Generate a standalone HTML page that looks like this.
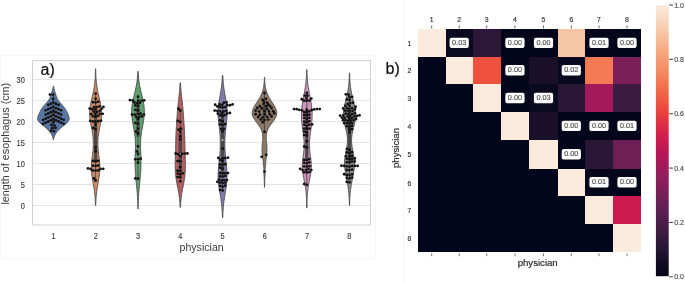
<!DOCTYPE html>
<html><head><meta charset="utf-8"><style>
html,body{margin:0;padding:0;background:#fff;width:685px;height:282px;overflow:hidden}
svg text{font-family:"Liberation Sans", sans-serif}
</style></head><body>
<svg width="685" height="282" viewBox="0 0 685 282" style="position:absolute;left:0;top:0;will-change:transform"><rect x="0.5" y="55.5" width="375" height="203.5" fill="none" stroke="#f7f7f7" stroke-width="1"/><line x1="403.5" y1="0" x2="403.5" y2="282" stroke="#f6f6f6" stroke-width="1"/><line x1="32.5" y1="205.50" x2="370.5" y2="205.50" stroke="#e3e3e3" stroke-width="1"/><text transform="translate(24.9,208.70) scale(0.84,1)" font-size="8.9" text-anchor="end" fill="#3c3c3c" stroke="#3c3c3c" stroke-width="0.15">0</text><line x1="32.5" y1="184.51" x2="370.5" y2="184.51" stroke="#e3e3e3" stroke-width="1"/><text transform="translate(24.9,187.71) scale(0.84,1)" font-size="8.9" text-anchor="end" fill="#3c3c3c" stroke="#3c3c3c" stroke-width="0.15">5</text><line x1="32.5" y1="163.53" x2="370.5" y2="163.53" stroke="#e3e3e3" stroke-width="1"/><text transform="translate(24.9,166.73) scale(0.84,1)" font-size="8.9" text-anchor="end" fill="#3c3c3c" stroke="#3c3c3c" stroke-width="0.15">10</text><line x1="32.5" y1="142.55" x2="370.5" y2="142.55" stroke="#e3e3e3" stroke-width="1"/><text transform="translate(24.9,145.75) scale(0.84,1)" font-size="8.9" text-anchor="end" fill="#3c3c3c" stroke="#3c3c3c" stroke-width="0.15">15</text><line x1="32.5" y1="121.56" x2="370.5" y2="121.56" stroke="#e3e3e3" stroke-width="1"/><text transform="translate(24.9,124.76) scale(0.84,1)" font-size="8.9" text-anchor="end" fill="#3c3c3c" stroke="#3c3c3c" stroke-width="0.15">20</text><line x1="32.5" y1="100.58" x2="370.5" y2="100.58" stroke="#e3e3e3" stroke-width="1"/><text transform="translate(24.9,103.78) scale(0.84,1)" font-size="8.9" text-anchor="end" fill="#3c3c3c" stroke="#3c3c3c" stroke-width="0.15">25</text><line x1="32.5" y1="79.59" x2="370.5" y2="79.59" stroke="#e3e3e3" stroke-width="1"/><text transform="translate(24.9,82.79) scale(0.84,1)" font-size="8.9" text-anchor="end" fill="#3c3c3c" stroke="#3c3c3c" stroke-width="0.15">30</text><path d="M53.17,86.35 L53.11,86.89 L53.03,87.43 L52.93,87.97 L52.82,88.50 L52.70,89.04 L52.56,89.58 L52.41,90.11 L52.25,90.65 L52.08,91.19 L51.91,91.73 L51.73,92.26 L51.55,92.80 L51.38,93.34 L51.21,93.88 L51.04,94.41 L50.87,94.95 L50.71,95.49 L50.54,96.02 L50.36,96.56 L50.17,97.10 L49.96,97.64 L49.72,98.17 L49.47,98.71 L49.18,99.25 L48.86,99.79 L48.50,100.32 L48.12,100.86 L47.71,101.40 L47.28,101.94 L46.82,102.47 L46.36,103.01 L45.88,103.55 L45.40,104.08 L44.93,104.62 L44.46,105.16 L44.00,105.70 L43.55,106.23 L43.12,106.77 L42.70,107.31 L42.30,107.85 L41.92,108.38 L41.57,108.92 L41.23,109.46 L40.90,109.99 L40.60,110.53 L40.31,111.07 L40.03,111.61 L39.77,112.14 L39.52,112.68 L39.27,113.22 L39.03,113.76 L38.80,114.29 L38.57,114.83 L38.36,115.37 L38.16,115.91 L37.98,116.44 L37.82,116.98 L37.70,117.52 L37.63,118.05 L37.60,118.59 L37.63,119.13 L37.73,119.67 L37.90,120.20 L38.15,120.74 L38.47,121.28 L38.86,121.82 L39.32,122.35 L39.85,122.89 L40.42,123.43 L41.04,123.96 L41.70,124.50 L42.37,125.04 L43.05,125.58 L43.74,126.11 L44.41,126.65 L45.07,127.19 L45.71,127.73 L46.32,128.26 L46.91,128.80 L47.47,129.34 L48.00,129.88 L48.51,130.41 L48.99,130.95 L49.45,131.49 L49.88,132.02 L50.29,132.56 L50.67,133.10 L51.03,133.64 L51.36,134.17 L51.66,134.71 L51.94,135.25 L52.18,135.79 L52.40,136.32 L52.59,136.86 L52.75,137.40 L52.89,137.93 L53.00,138.47 L53.09,139.01 L53.17,139.55 L53.63,139.55 L53.71,139.01 L53.80,138.47 L53.91,137.93 L54.05,137.40 L54.21,136.86 L54.40,136.32 L54.62,135.79 L54.86,135.25 L55.14,134.71 L55.44,134.17 L55.77,133.64 L56.13,133.10 L56.51,132.56 L56.92,132.02 L57.35,131.49 L57.81,130.95 L58.29,130.41 L58.80,129.88 L59.33,129.34 L59.89,128.80 L60.48,128.26 L61.09,127.73 L61.73,127.19 L62.39,126.65 L63.06,126.11 L63.75,125.58 L64.43,125.04 L65.10,124.50 L65.76,123.96 L66.38,123.43 L66.95,122.89 L67.48,122.35 L67.94,121.82 L68.33,121.28 L68.65,120.74 L68.90,120.20 L69.07,119.67 L69.17,119.13 L69.20,118.59 L69.17,118.05 L69.10,117.52 L68.98,116.98 L68.82,116.44 L68.64,115.91 L68.44,115.37 L68.23,114.83 L68.00,114.29 L67.77,113.76 L67.53,113.22 L67.28,112.68 L67.03,112.14 L66.77,111.61 L66.49,111.07 L66.20,110.53 L65.90,109.99 L65.57,109.46 L65.23,108.92 L64.88,108.38 L64.50,107.85 L64.10,107.31 L63.68,106.77 L63.25,106.23 L62.80,105.70 L62.34,105.16 L61.87,104.62 L61.40,104.08 L60.92,103.55 L60.44,103.01 L59.98,102.47 L59.52,101.94 L59.09,101.40 L58.68,100.86 L58.30,100.32 L57.94,99.79 L57.62,99.25 L57.33,98.71 L57.08,98.17 L56.84,97.64 L56.63,97.10 L56.44,96.56 L56.26,96.02 L56.09,95.49 L55.93,94.95 L55.76,94.41 L55.59,93.88 L55.42,93.34 L55.25,92.80 L55.07,92.26 L54.89,91.73 L54.72,91.19 L54.55,90.65 L54.39,90.11 L54.24,89.58 L54.10,89.04 L53.98,88.50 L53.87,87.97 L53.77,87.43 L53.69,86.89 L53.63,86.35Z" fill="#5875a4" stroke="#494949" stroke-width="0.9" stroke-linejoin="round"/><line x1="53.4" y1="94.60" x2="53.4" y2="131.30" stroke="#494949" stroke-width="0.9"/><line x1="53.4" y1="109.20" x2="53.4" y2="121.50" stroke="#494949" stroke-width="3.3"/><circle cx="53.4" cy="116.35" r="1.1" fill="#f4f4f4" stroke="#494949" stroke-width="0.5"/><circle cx="50.00" cy="94.60" r="1.4" fill="#111"/><circle cx="53.10" cy="94.60" r="1.4" fill="#111"/><circle cx="53.20" cy="99.00" r="1.4" fill="#111"/><circle cx="53.40" cy="102.60" r="1.4" fill="#111"/><circle cx="50.85" cy="103.75" r="1.4" fill="#111"/><circle cx="48.30" cy="104.89" r="1.4" fill="#111"/><circle cx="55.95" cy="103.75" r="1.4" fill="#111"/><circle cx="58.50" cy="104.89" r="1.4" fill="#111"/><circle cx="53.40" cy="106.90" r="1.4" fill="#111"/><circle cx="50.85" cy="108.05" r="1.4" fill="#111"/><circle cx="48.30" cy="109.20" r="1.4" fill="#111"/><circle cx="45.75" cy="110.34" r="1.4" fill="#111"/><circle cx="55.95" cy="108.05" r="1.4" fill="#111"/><circle cx="58.50" cy="109.20" r="1.4" fill="#111"/><circle cx="61.05" cy="110.34" r="1.4" fill="#111"/><circle cx="53.40" cy="111.10" r="1.4" fill="#111"/><circle cx="50.85" cy="112.25" r="1.4" fill="#111"/><circle cx="48.30" cy="113.39" r="1.4" fill="#111"/><circle cx="45.75" cy="114.54" r="1.4" fill="#111"/><circle cx="55.95" cy="112.25" r="1.4" fill="#111"/><circle cx="58.50" cy="113.39" r="1.4" fill="#111"/><circle cx="61.05" cy="114.54" r="1.4" fill="#111"/><circle cx="53.40" cy="115.20" r="1.4" fill="#111"/><circle cx="50.85" cy="116.35" r="1.4" fill="#111"/><circle cx="48.30" cy="117.50" r="1.4" fill="#111"/><circle cx="45.75" cy="118.64" r="1.4" fill="#111"/><circle cx="43.20" cy="119.79" r="1.4" fill="#111"/><circle cx="55.95" cy="116.35" r="1.4" fill="#111"/><circle cx="58.50" cy="117.50" r="1.4" fill="#111"/><circle cx="61.05" cy="118.64" r="1.4" fill="#111"/><circle cx="63.60" cy="119.79" r="1.4" fill="#111"/><circle cx="53.40" cy="119.20" r="1.4" fill="#111"/><circle cx="50.85" cy="120.35" r="1.4" fill="#111"/><circle cx="48.30" cy="121.50" r="1.4" fill="#111"/><circle cx="45.75" cy="122.64" r="1.4" fill="#111"/><circle cx="43.20" cy="123.79" r="1.4" fill="#111"/><circle cx="55.95" cy="120.35" r="1.4" fill="#111"/><circle cx="58.50" cy="121.50" r="1.4" fill="#111"/><circle cx="61.05" cy="122.64" r="1.4" fill="#111"/><circle cx="63.60" cy="123.79" r="1.4" fill="#111"/><circle cx="53.40" cy="122.40" r="1.4" fill="#111"/><circle cx="51.40" cy="124.90" r="1.4" fill="#111"/><circle cx="54.40" cy="125.60" r="1.4" fill="#111"/><circle cx="52.20" cy="128.20" r="1.4" fill="#111"/><circle cx="55.60" cy="127.90" r="1.4" fill="#111"/><circle cx="51.00" cy="130.80" r="1.4" fill="#111"/><circle cx="54.00" cy="131.30" r="1.4" fill="#111"/><path d="M95.52,68.74 L95.50,70.12 L95.47,71.50 L95.43,72.88 L95.38,74.26 L95.33,75.64 L95.26,77.02 L95.17,78.40 L95.07,79.78 L94.96,81.16 L94.82,82.54 L94.67,83.92 L94.49,85.30 L94.30,86.68 L94.08,88.06 L93.84,89.44 L93.58,90.82 L93.29,92.20 L93.00,93.58 L92.69,94.96 L92.37,96.34 L92.04,97.72 L91.72,99.10 L91.40,100.48 L91.09,101.86 L90.80,103.24 L90.53,104.62 L90.29,106.00 L90.08,107.38 L89.92,108.76 L89.79,110.14 L89.71,111.52 L89.67,112.90 L89.68,114.28 L89.73,115.66 L89.83,117.04 L89.96,118.42 L90.13,119.80 L90.33,121.18 L90.55,122.56 L90.80,123.94 L91.06,125.32 L91.32,126.70 L91.59,128.08 L91.85,129.46 L92.10,130.84 L92.34,132.22 L92.56,133.60 L92.76,134.98 L92.93,136.36 L93.07,137.74 L93.19,139.12 L93.27,140.50 L93.32,141.88 L93.34,143.26 L93.33,144.64 L93.29,146.02 L93.22,147.40 L93.12,148.78 L93.00,150.16 L92.86,151.54 L92.70,152.92 L92.53,154.30 L92.36,155.68 L92.18,157.06 L92.01,158.44 L91.84,159.82 L91.69,161.20 L91.57,162.58 L91.47,163.96 L91.40,165.34 L91.36,166.72 L91.35,168.10 L91.39,169.48 L91.45,170.86 L91.56,172.24 L91.69,173.62 L91.86,175.00 L92.05,176.38 L92.26,177.76 L92.48,179.14 L92.72,180.52 L92.97,181.90 L93.21,183.28 L93.45,184.66 L93.69,186.04 L93.91,187.42 L94.12,188.80 L94.32,190.18 L94.50,191.56 L94.67,192.94 L94.81,194.32 L94.94,195.70 L95.06,197.08 L95.16,198.46 L95.24,199.84 L95.31,201.22 L95.37,202.60 L95.42,203.98 L95.46,205.36 L95.74,205.36 L95.78,203.98 L95.83,202.60 L95.89,201.22 L95.96,199.84 L96.04,198.46 L96.14,197.08 L96.26,195.70 L96.39,194.32 L96.53,192.94 L96.70,191.56 L96.88,190.18 L97.08,188.80 L97.29,187.42 L97.51,186.04 L97.75,184.66 L97.99,183.28 L98.23,181.90 L98.48,180.52 L98.72,179.14 L98.94,177.76 L99.15,176.38 L99.34,175.00 L99.51,173.62 L99.64,172.24 L99.75,170.86 L99.81,169.48 L99.85,168.10 L99.84,166.72 L99.80,165.34 L99.73,163.96 L99.63,162.58 L99.51,161.20 L99.36,159.82 L99.19,158.44 L99.02,157.06 L98.84,155.68 L98.67,154.30 L98.50,152.92 L98.34,151.54 L98.20,150.16 L98.08,148.78 L97.98,147.40 L97.91,146.02 L97.87,144.64 L97.86,143.26 L97.88,141.88 L97.93,140.50 L98.01,139.12 L98.13,137.74 L98.27,136.36 L98.44,134.98 L98.64,133.60 L98.86,132.22 L99.10,130.84 L99.35,129.46 L99.61,128.08 L99.88,126.70 L100.14,125.32 L100.40,123.94 L100.65,122.56 L100.87,121.18 L101.07,119.80 L101.24,118.42 L101.37,117.04 L101.47,115.66 L101.52,114.28 L101.53,112.90 L101.49,111.52 L101.41,110.14 L101.28,108.76 L101.12,107.38 L100.91,106.00 L100.67,104.62 L100.40,103.24 L100.11,101.86 L99.80,100.48 L99.48,99.10 L99.16,97.72 L98.83,96.34 L98.51,94.96 L98.20,93.58 L97.91,92.20 L97.62,90.82 L97.36,89.44 L97.12,88.06 L96.90,86.68 L96.71,85.30 L96.53,83.92 L96.38,82.54 L96.24,81.16 L96.13,79.78 L96.03,78.40 L95.94,77.02 L95.87,75.64 L95.82,74.26 L95.77,72.88 L95.73,71.50 L95.70,70.12 L95.68,68.74Z" fill="#cc8963" stroke="#494949" stroke-width="0.9" stroke-linejoin="round"/><line x1="95.6" y1="93.62" x2="95.6" y2="180.48" stroke="#494949" stroke-width="0.9"/><line x1="95.6" y1="109.38" x2="95.6" y2="162.41" stroke="#494949" stroke-width="3.3"/><circle cx="95.6" cy="120.80" r="1.1" fill="#f4f4f4" stroke="#494949" stroke-width="0.5"/><circle cx="95.60" cy="93.62" r="1.4" fill="#111"/><circle cx="95.60" cy="98.80" r="1.4" fill="#111"/><circle cx="95.60" cy="102.40" r="1.4" fill="#111"/><circle cx="92.91" cy="102.13" r="1.4" fill="#111"/><circle cx="98.21" cy="101.71" r="1.4" fill="#111"/><circle cx="96.95" cy="107.09" r="1.4" fill="#111"/><circle cx="103.40" cy="107.02" r="1.4" fill="#111"/><circle cx="99.54" cy="106.31" r="1.4" fill="#111"/><circle cx="94.13" cy="107.16" r="1.4" fill="#111"/><circle cx="89.71" cy="108.61" r="1.4" fill="#111"/><circle cx="95.60" cy="109.43" r="1.4" fill="#111"/><circle cx="92.33" cy="109.25" r="1.4" fill="#111"/><circle cx="101.53" cy="108.96" r="1.4" fill="#111"/><circle cx="99.59" cy="110.84" r="1.4" fill="#111"/><circle cx="97.18" cy="112.05" r="1.4" fill="#111"/><circle cx="93.66" cy="111.60" r="1.4" fill="#111"/><circle cx="95.16" cy="113.85" r="1.4" fill="#111"/><circle cx="99.95" cy="113.80" r="1.4" fill="#111"/><circle cx="91.22" cy="114.21" r="1.4" fill="#111"/><circle cx="102.65" cy="113.79" r="1.4" fill="#111"/><circle cx="95.60" cy="116.51" r="1.4" fill="#111"/><circle cx="92.91" cy="116.32" r="1.4" fill="#111"/><circle cx="98.22" cy="115.88" r="1.4" fill="#111"/><circle cx="100.93" cy="120.65" r="1.4" fill="#111"/><circle cx="95.60" cy="121.48" r="1.4" fill="#111"/><circle cx="92.90" cy="121.45" r="1.4" fill="#111"/><circle cx="98.29" cy="121.23" r="1.4" fill="#111"/><circle cx="90.24" cy="120.96" r="1.4" fill="#111"/><circle cx="95.60" cy="124.66" r="1.4" fill="#111"/><circle cx="93.17" cy="127.98" r="1.4" fill="#111"/><circle cx="95.60" cy="129.14" r="1.4" fill="#111"/><circle cx="95.60" cy="147.49" r="1.4" fill="#111"/><circle cx="95.60" cy="151.24" r="1.4" fill="#111"/><circle cx="95.60" cy="161.40" r="1.4" fill="#111"/><circle cx="98.24" cy="160.82" r="1.4" fill="#111"/><circle cx="92.94" cy="160.96" r="1.4" fill="#111"/><circle cx="98.25" cy="165.42" r="1.4" fill="#111"/><circle cx="95.60" cy="165.96" r="1.4" fill="#111"/><circle cx="92.91" cy="165.70" r="1.4" fill="#111"/><circle cx="103.25" cy="168.86" r="1.4" fill="#111"/><circle cx="100.55" cy="168.95" r="1.4" fill="#111"/><circle cx="87.98" cy="168.43" r="1.4" fill="#111"/><circle cx="90.62" cy="168.99" r="1.4" fill="#111"/><circle cx="95.60" cy="170.62" r="1.4" fill="#111"/><circle cx="92.91" cy="170.43" r="1.4" fill="#111"/><circle cx="98.29" cy="170.43" r="1.4" fill="#111"/><circle cx="93.87" cy="178.40" r="1.4" fill="#111"/><circle cx="95.60" cy="180.48" r="1.4" fill="#111"/><path d="M137.79,71.43 L137.73,72.82 L137.66,74.21 L137.57,75.60 L137.46,76.99 L137.34,78.37 L137.19,79.76 L137.02,81.15 L136.83,82.54 L136.61,83.93 L136.37,85.32 L136.11,86.71 L135.82,88.09 L135.52,89.48 L135.20,90.87 L134.87,92.26 L134.53,93.65 L134.19,95.04 L133.86,96.42 L133.53,97.81 L133.21,99.20 L132.91,100.59 L132.64,101.98 L132.39,103.37 L132.17,104.76 L131.99,106.14 L131.85,107.53 L131.74,108.92 L131.68,110.31 L131.65,111.70 L131.67,113.09 L131.73,114.47 L131.82,115.86 L131.95,117.25 L132.11,118.64 L132.29,120.03 L132.50,121.42 L132.73,122.81 L132.98,124.19 L133.23,125.58 L133.49,126.97 L133.75,128.36 L134.00,129.75 L134.24,131.14 L134.46,132.53 L134.67,133.91 L134.86,135.30 L135.02,136.69 L135.16,138.08 L135.27,139.47 L135.35,140.86 L135.41,142.24 L135.44,143.63 L135.45,145.02 L135.44,146.41 L135.42,147.80 L135.38,149.19 L135.33,150.58 L135.27,151.96 L135.22,153.35 L135.16,154.74 L135.11,156.13 L135.07,157.52 L135.03,158.91 L135.01,160.30 L135.00,161.68 L135.00,163.07 L135.02,164.46 L135.05,165.85 L135.10,167.24 L135.15,168.63 L135.22,170.01 L135.31,171.40 L135.40,172.79 L135.50,174.18 L135.61,175.57 L135.73,176.96 L135.86,178.35 L135.99,179.73 L136.12,181.12 L136.26,182.51 L136.40,183.90 L136.54,185.29 L136.67,186.68 L136.80,188.06 L136.93,189.45 L137.05,190.84 L137.17,192.23 L137.27,193.62 L137.37,195.01 L137.46,196.40 L137.55,197.78 L137.62,199.17 L137.68,200.56 L137.74,201.95 L137.79,203.34 L137.83,204.73 L137.86,206.12 L137.89,207.50 L137.92,208.89 L138.08,208.89 L138.11,207.50 L138.14,206.12 L138.17,204.73 L138.21,203.34 L138.26,201.95 L138.32,200.56 L138.38,199.17 L138.45,197.78 L138.54,196.40 L138.63,195.01 L138.73,193.62 L138.83,192.23 L138.95,190.84 L139.07,189.45 L139.20,188.06 L139.33,186.68 L139.46,185.29 L139.60,183.90 L139.74,182.51 L139.88,181.12 L140.01,179.73 L140.14,178.35 L140.27,176.96 L140.39,175.57 L140.50,174.18 L140.60,172.79 L140.69,171.40 L140.78,170.01 L140.85,168.63 L140.90,167.24 L140.95,165.85 L140.98,164.46 L141.00,163.07 L141.00,161.68 L140.99,160.30 L140.97,158.91 L140.93,157.52 L140.89,156.13 L140.84,154.74 L140.78,153.35 L140.73,151.96 L140.67,150.58 L140.62,149.19 L140.58,147.80 L140.56,146.41 L140.55,145.02 L140.56,143.63 L140.59,142.24 L140.65,140.86 L140.73,139.47 L140.84,138.08 L140.98,136.69 L141.14,135.30 L141.33,133.91 L141.54,132.53 L141.76,131.14 L142.00,129.75 L142.25,128.36 L142.51,126.97 L142.77,125.58 L143.02,124.19 L143.27,122.81 L143.50,121.42 L143.71,120.03 L143.89,118.64 L144.05,117.25 L144.18,115.86 L144.27,114.47 L144.33,113.09 L144.35,111.70 L144.32,110.31 L144.26,108.92 L144.15,107.53 L144.01,106.14 L143.83,104.76 L143.61,103.37 L143.36,101.98 L143.09,100.59 L142.79,99.20 L142.47,97.81 L142.14,96.42 L141.81,95.04 L141.47,93.65 L141.13,92.26 L140.80,90.87 L140.48,89.48 L140.18,88.09 L139.89,86.71 L139.63,85.32 L139.39,83.93 L139.17,82.54 L138.98,81.15 L138.81,79.76 L138.66,78.37 L138.54,76.99 L138.43,75.60 L138.34,74.21 L138.27,72.82 L138.21,71.43Z" fill="#5f9e6e" stroke="#494949" stroke-width="0.9" stroke-linejoin="round"/><line x1="138.0" y1="96.72" x2="138.0" y2="178.71" stroke="#494949" stroke-width="0.9"/><line x1="138.0" y1="104.86" x2="138.0" y2="136.72" stroke="#494949" stroke-width="3.3"/><circle cx="138.0" cy="115.56" r="1.1" fill="#f4f4f4" stroke="#494949" stroke-width="0.5"/><circle cx="138.00" cy="96.72" r="1.4" fill="#111"/><circle cx="132.63" cy="100.52" r="1.4" fill="#111"/><circle cx="141.51" cy="100.85" r="1.4" fill="#111"/><circle cx="129.96" cy="100.12" r="1.4" fill="#111"/><circle cx="138.28" cy="100.66" r="1.4" fill="#111"/><circle cx="144.16" cy="100.35" r="1.4" fill="#111"/><circle cx="139.81" cy="102.95" r="1.4" fill="#111"/><circle cx="134.48" cy="102.49" r="1.4" fill="#111"/><circle cx="137.11" cy="103.09" r="1.4" fill="#111"/><circle cx="138.00" cy="105.64" r="1.4" fill="#111"/><circle cx="135.31" cy="105.45" r="1.4" fill="#111"/><circle cx="135.37" cy="109.78" r="1.4" fill="#111"/><circle cx="138.00" cy="110.39" r="1.4" fill="#111"/><circle cx="138.00" cy="114.06" r="1.4" fill="#111"/><circle cx="143.93" cy="114.59" r="1.4" fill="#111"/><circle cx="134.75" cy="114.69" r="1.4" fill="#111"/><circle cx="132.05" cy="114.59" r="1.4" fill="#111"/><circle cx="140.65" cy="113.53" r="1.4" fill="#111"/><circle cx="141.95" cy="116.43" r="1.4" fill="#111"/><circle cx="139.26" cy="116.62" r="1.4" fill="#111"/><circle cx="136.33" cy="116.89" r="1.4" fill="#111"/><circle cx="138.00" cy="119.00" r="1.4" fill="#111"/><circle cx="138.00" cy="123.66" r="1.4" fill="#111"/><circle cx="135.42" cy="122.88" r="1.4" fill="#111"/><circle cx="138.00" cy="128.64" r="1.4" fill="#111"/><circle cx="136.06" cy="131.60" r="1.4" fill="#111"/><circle cx="138.00" cy="133.48" r="1.4" fill="#111"/><circle cx="138.00" cy="146.46" r="1.4" fill="#111"/><circle cx="136.88" cy="151.33" r="1.4" fill="#111"/><circle cx="138.00" cy="153.79" r="1.4" fill="#111"/><circle cx="140.63" cy="158.75" r="1.4" fill="#111"/><circle cx="135.30" cy="159.37" r="1.4" fill="#111"/><circle cx="138.00" cy="159.37" r="1.4" fill="#111"/><circle cx="138.00" cy="162.71" r="1.4" fill="#111"/><circle cx="135.32" cy="178.40" r="1.4" fill="#111"/><circle cx="138.00" cy="178.71" r="1.4" fill="#111"/><path d="M180.08,82.77 L180.03,84.03 L179.97,85.29 L179.90,86.55 L179.82,87.81 L179.73,89.06 L179.63,90.32 L179.52,91.58 L179.40,92.84 L179.27,94.10 L179.13,95.35 L178.99,96.61 L178.84,97.87 L178.69,99.13 L178.54,100.39 L178.39,101.64 L178.25,102.90 L178.11,104.16 L177.97,105.42 L177.84,106.68 L177.72,107.94 L177.61,109.19 L177.50,110.45 L177.40,111.71 L177.31,112.97 L177.22,114.23 L177.13,115.48 L177.04,116.74 L176.96,118.00 L176.87,119.26 L176.79,120.52 L176.70,121.77 L176.62,123.03 L176.53,124.29 L176.45,125.55 L176.37,126.81 L176.29,128.07 L176.21,129.32 L176.14,130.58 L176.07,131.84 L176.01,133.10 L175.96,134.36 L175.91,135.61 L175.87,136.87 L175.83,138.13 L175.79,139.39 L175.76,140.65 L175.73,141.90 L175.71,143.16 L175.68,144.42 L175.65,145.68 L175.62,146.94 L175.59,148.20 L175.55,149.45 L175.52,150.71 L175.48,151.97 L175.44,153.23 L175.41,154.49 L175.37,155.74 L175.33,157.00 L175.30,158.26 L175.26,159.52 L175.24,160.78 L175.21,162.03 L175.20,163.29 L175.19,164.55 L175.19,165.81 L175.20,167.07 L175.22,168.33 L175.26,169.58 L175.32,170.84 L175.39,172.10 L175.48,173.36 L175.59,174.62 L175.73,175.87 L175.88,177.13 L176.05,178.39 L176.24,179.65 L176.45,180.91 L176.67,182.16 L176.91,183.42 L177.15,184.68 L177.40,185.94 L177.65,187.20 L177.90,188.46 L178.14,189.71 L178.37,190.97 L178.60,192.23 L178.81,193.49 L179.01,194.75 L179.19,196.00 L179.35,197.26 L179.50,198.52 L179.63,199.78 L179.74,201.04 L179.84,202.29 L179.93,203.55 L180.00,204.81 L180.06,206.07 L180.11,207.33 L180.49,207.33 L180.54,206.07 L180.60,204.81 L180.67,203.55 L180.76,202.29 L180.86,201.04 L180.97,199.78 L181.10,198.52 L181.25,197.26 L181.41,196.00 L181.59,194.75 L181.79,193.49 L182.00,192.23 L182.23,190.97 L182.46,189.71 L182.70,188.46 L182.95,187.20 L183.20,185.94 L183.45,184.68 L183.69,183.42 L183.93,182.16 L184.15,180.91 L184.36,179.65 L184.55,178.39 L184.72,177.13 L184.87,175.87 L185.01,174.62 L185.12,173.36 L185.21,172.10 L185.28,170.84 L185.34,169.58 L185.38,168.33 L185.40,167.07 L185.41,165.81 L185.41,164.55 L185.40,163.29 L185.39,162.03 L185.36,160.78 L185.34,159.52 L185.30,158.26 L185.27,157.00 L185.23,155.74 L185.19,154.49 L185.16,153.23 L185.12,151.97 L185.08,150.71 L185.05,149.45 L185.01,148.20 L184.98,146.94 L184.95,145.68 L184.92,144.42 L184.89,143.16 L184.87,141.90 L184.84,140.65 L184.81,139.39 L184.77,138.13 L184.73,136.87 L184.69,135.61 L184.64,134.36 L184.59,133.10 L184.53,131.84 L184.46,130.58 L184.39,129.32 L184.31,128.07 L184.23,126.81 L184.15,125.55 L184.07,124.29 L183.98,123.03 L183.90,121.77 L183.81,120.52 L183.73,119.26 L183.64,118.00 L183.56,116.74 L183.47,115.48 L183.38,114.23 L183.29,112.97 L183.20,111.71 L183.10,110.45 L182.99,109.19 L182.88,107.94 L182.76,106.68 L182.63,105.42 L182.49,104.16 L182.35,102.90 L182.21,101.64 L182.06,100.39 L181.91,99.13 L181.76,97.87 L181.61,96.61 L181.47,95.35 L181.33,94.10 L181.20,92.84 L181.08,91.58 L180.97,90.32 L180.87,89.06 L180.78,87.81 L180.70,86.55 L180.63,85.29 L180.57,84.03 L180.52,82.77Z" fill="#b55d60" stroke="#494949" stroke-width="0.9" stroke-linejoin="round"/><line x1="180.3" y1="108.74" x2="180.3" y2="181.37" stroke="#494949" stroke-width="0.9"/><line x1="180.3" y1="132.84" x2="180.3" y2="171.00" stroke="#494949" stroke-width="3.3"/><circle cx="180.3" cy="154.09" r="1.1" fill="#f4f4f4" stroke="#494949" stroke-width="0.5"/><circle cx="178.36" cy="108.74" r="1.4" fill="#111"/><circle cx="180.30" cy="110.61" r="1.4" fill="#111"/><circle cx="177.77" cy="120.95" r="1.4" fill="#111"/><circle cx="180.30" cy="121.90" r="1.4" fill="#111"/><circle cx="178.49" cy="129.70" r="1.4" fill="#111"/><circle cx="180.98" cy="128.64" r="1.4" fill="#111"/><circle cx="180.30" cy="131.70" r="1.4" fill="#111"/><circle cx="180.30" cy="136.23" r="1.4" fill="#111"/><circle cx="180.30" cy="139.28" r="1.4" fill="#111"/><circle cx="187.38" cy="153.51" r="1.4" fill="#111"/><circle cx="184.68" cy="153.57" r="1.4" fill="#111"/><circle cx="182.00" cy="153.94" r="1.4" fill="#111"/><circle cx="175.68" cy="153.51" r="1.4" fill="#111"/><circle cx="178.28" cy="154.24" r="1.4" fill="#111"/><circle cx="180.30" cy="156.03" r="1.4" fill="#111"/><circle cx="177.61" cy="161.06" r="1.4" fill="#111"/><circle cx="180.30" cy="161.25" r="1.4" fill="#111"/><circle cx="180.30" cy="167.18" r="1.4" fill="#111"/><circle cx="180.30" cy="171.09" r="1.4" fill="#111"/><circle cx="177.63" cy="170.71" r="1.4" fill="#111"/><circle cx="177.76" cy="173.57" r="1.4" fill="#111"/><circle cx="182.75" cy="173.35" r="1.4" fill="#111"/><circle cx="180.30" cy="174.49" r="1.4" fill="#111"/><circle cx="180.30" cy="177.32" r="1.4" fill="#111"/><circle cx="177.61" cy="177.09" r="1.4" fill="#111"/><circle cx="180.30" cy="181.37" r="1.4" fill="#111"/><path d="M222.37,75.54 L222.31,76.97 L222.24,78.41 L222.15,79.85 L222.04,81.28 L221.92,82.72 L221.78,84.16 L221.62,85.60 L221.45,87.03 L221.25,88.47 L221.04,89.91 L220.81,91.35 L220.56,92.78 L220.31,94.22 L220.05,95.66 L219.79,97.10 L219.53,98.53 L219.27,99.97 L219.03,101.41 L218.81,102.85 L218.61,104.28 L218.43,105.72 L218.28,107.16 L218.17,108.59 L218.09,110.03 L218.04,111.47 L218.03,112.91 L218.05,114.34 L218.11,115.78 L218.19,117.22 L218.29,118.66 L218.42,120.09 L218.57,121.53 L218.73,122.97 L218.89,124.41 L219.06,125.84 L219.24,127.28 L219.40,128.72 L219.57,130.15 L219.72,131.59 L219.86,133.03 L219.99,134.47 L220.10,135.90 L220.19,137.34 L220.26,138.78 L220.32,140.22 L220.35,141.65 L220.36,143.09 L220.36,144.53 L220.33,145.97 L220.29,147.40 L220.22,148.84 L220.14,150.28 L220.04,151.72 L219.93,153.15 L219.81,154.59 L219.68,156.03 L219.53,157.46 L219.39,158.90 L219.24,160.34 L219.09,161.78 L218.94,163.21 L218.79,164.65 L218.66,166.09 L218.53,167.53 L218.42,168.96 L218.33,170.40 L218.25,171.84 L218.20,173.28 L218.17,174.71 L218.17,176.15 L218.19,177.59 L218.24,179.02 L218.32,180.46 L218.43,181.90 L218.57,183.34 L218.72,184.77 L218.90,186.21 L219.10,187.65 L219.32,189.09 L219.54,190.52 L219.78,191.96 L220.02,193.40 L220.26,194.84 L220.49,196.27 L220.72,197.71 L220.94,199.15 L221.14,200.59 L221.34,202.02 L221.51,203.46 L221.67,204.90 L221.82,206.33 L221.95,207.77 L222.06,209.21 L222.16,210.65 L222.24,212.08 L222.31,213.52 L222.37,214.96 L222.42,216.40 L222.46,217.83 L222.74,217.83 L222.78,216.40 L222.83,214.96 L222.89,213.52 L222.96,212.08 L223.04,210.65 L223.14,209.21 L223.25,207.77 L223.38,206.33 L223.53,204.90 L223.69,203.46 L223.86,202.02 L224.06,200.59 L224.26,199.15 L224.48,197.71 L224.71,196.27 L224.94,194.84 L225.18,193.40 L225.42,191.96 L225.66,190.52 L225.88,189.09 L226.10,187.65 L226.30,186.21 L226.48,184.77 L226.63,183.34 L226.77,181.90 L226.88,180.46 L226.96,179.02 L227.01,177.59 L227.03,176.15 L227.03,174.71 L227.00,173.28 L226.95,171.84 L226.87,170.40 L226.78,168.96 L226.67,167.53 L226.54,166.09 L226.41,164.65 L226.26,163.21 L226.11,161.78 L225.96,160.34 L225.81,158.90 L225.67,157.46 L225.52,156.03 L225.39,154.59 L225.27,153.15 L225.16,151.72 L225.06,150.28 L224.98,148.84 L224.91,147.40 L224.87,145.97 L224.84,144.53 L224.84,143.09 L224.85,141.65 L224.88,140.22 L224.94,138.78 L225.01,137.34 L225.10,135.90 L225.21,134.47 L225.34,133.03 L225.48,131.59 L225.63,130.15 L225.80,128.72 L225.96,127.28 L226.14,125.84 L226.31,124.41 L226.47,122.97 L226.63,121.53 L226.78,120.09 L226.91,118.66 L227.01,117.22 L227.09,115.78 L227.15,114.34 L227.17,112.91 L227.16,111.47 L227.11,110.03 L227.03,108.59 L226.92,107.16 L226.77,105.72 L226.59,104.28 L226.39,102.85 L226.17,101.41 L225.93,99.97 L225.67,98.53 L225.41,97.10 L225.15,95.66 L224.89,94.22 L224.64,92.78 L224.39,91.35 L224.16,89.91 L223.95,88.47 L223.75,87.03 L223.58,85.60 L223.42,84.16 L223.28,82.72 L223.16,81.28 L223.05,79.85 L222.96,78.41 L222.89,76.97 L222.83,75.54Z" fill="#857aab" stroke="#494949" stroke-width="0.9" stroke-linejoin="round"/><line x1="222.6" y1="102.47" x2="222.6" y2="190.52" stroke="#494949" stroke-width="0.9"/><line x1="222.6" y1="111.43" x2="222.6" y2="174.08" stroke="#494949" stroke-width="3.3"/><circle cx="222.6" cy="140.00" r="1.1" fill="#f4f4f4" stroke="#494949" stroke-width="0.5"/><circle cx="223.93" cy="102.67" r="1.4" fill="#111"/><circle cx="226.62" cy="102.47" r="1.4" fill="#111"/><circle cx="219.55" cy="104.50" r="1.4" fill="#111"/><circle cx="232.55" cy="104.38" r="1.4" fill="#111"/><circle cx="215.21" cy="104.73" r="1.4" fill="#111"/><circle cx="227.28" cy="105.26" r="1.4" fill="#111"/><circle cx="229.98" cy="105.23" r="1.4" fill="#111"/><circle cx="222.24" cy="104.78" r="1.4" fill="#111"/><circle cx="219.91" cy="107.20" r="1.4" fill="#111"/><circle cx="222.60" cy="107.45" r="1.4" fill="#111"/><circle cx="217.34" cy="106.39" r="1.4" fill="#111"/><circle cx="225.27" cy="107.05" r="1.4" fill="#111"/><circle cx="220.06" cy="111.36" r="1.4" fill="#111"/><circle cx="223.72" cy="111.46" r="1.4" fill="#111"/><circle cx="214.71" cy="110.61" r="1.4" fill="#111"/><circle cx="217.38" cy="110.98" r="1.4" fill="#111"/><circle cx="226.35" cy="110.81" r="1.4" fill="#111"/><circle cx="229.91" cy="112.97" r="1.4" fill="#111"/><circle cx="217.84" cy="113.72" r="1.4" fill="#111"/><circle cx="227.25" cy="113.38" r="1.4" fill="#111"/><circle cx="221.84" cy="113.39" r="1.4" fill="#111"/><circle cx="219.97" cy="115.37" r="1.4" fill="#111"/><circle cx="222.60" cy="115.98" r="1.4" fill="#111"/><circle cx="225.15" cy="115.08" r="1.4" fill="#111"/><circle cx="222.60" cy="121.16" r="1.4" fill="#111"/><circle cx="219.98" cy="120.50" r="1.4" fill="#111"/><circle cx="225.20" cy="124.07" r="1.4" fill="#111"/><circle cx="219.92" cy="124.45" r="1.4" fill="#111"/><circle cx="222.60" cy="124.80" r="1.4" fill="#111"/><circle cx="223.98" cy="128.95" r="1.4" fill="#111"/><circle cx="221.28" cy="129.02" r="1.4" fill="#111"/><circle cx="222.60" cy="131.37" r="1.4" fill="#111"/><circle cx="222.60" cy="148.63" r="1.4" fill="#111"/><circle cx="227.97" cy="157.72" r="1.4" fill="#111"/><circle cx="222.60" cy="158.28" r="1.4" fill="#111"/><circle cx="218.31" cy="157.94" r="1.4" fill="#111"/><circle cx="225.29" cy="158.05" r="1.4" fill="#111"/><circle cx="222.60" cy="161.01" r="1.4" fill="#111"/><circle cx="220.11" cy="159.96" r="1.4" fill="#111"/><circle cx="225.25" cy="164.17" r="1.4" fill="#111"/><circle cx="219.91" cy="164.45" r="1.4" fill="#111"/><circle cx="222.60" cy="164.66" r="1.4" fill="#111"/><circle cx="220.03" cy="167.71" r="1.4" fill="#111"/><circle cx="222.60" cy="168.55" r="1.4" fill="#111"/><circle cx="219.91" cy="173.24" r="1.4" fill="#111"/><circle cx="227.98" cy="173.09" r="1.4" fill="#111"/><circle cx="225.28" cy="173.13" r="1.4" fill="#111"/><circle cx="222.60" cy="173.45" r="1.4" fill="#111"/><circle cx="219.90" cy="176.46" r="1.4" fill="#111"/><circle cx="225.25" cy="175.97" r="1.4" fill="#111"/><circle cx="222.60" cy="176.50" r="1.4" fill="#111"/><circle cx="226.97" cy="180.04" r="1.4" fill="#111"/><circle cx="224.27" cy="180.07" r="1.4" fill="#111"/><circle cx="221.59" cy="180.37" r="1.4" fill="#111"/><circle cx="219.01" cy="179.57" r="1.4" fill="#111"/><circle cx="222.60" cy="182.88" r="1.4" fill="#111"/><circle cx="225.29" cy="182.61" r="1.4" fill="#111"/><circle cx="217.35" cy="181.80" r="1.4" fill="#111"/><circle cx="219.91" cy="182.67" r="1.4" fill="#111"/><circle cx="222.60" cy="186.68" r="1.4" fill="#111"/><circle cx="225.11" cy="185.69" r="1.4" fill="#111"/><circle cx="220.03" cy="185.86" r="1.4" fill="#111"/><circle cx="219.97" cy="189.91" r="1.4" fill="#111"/><circle cx="222.60" cy="190.52" r="1.4" fill="#111"/><path d="M264.42,77.30 L264.39,78.42 L264.35,79.53 L264.29,80.64 L264.23,81.75 L264.14,82.86 L264.04,83.97 L263.91,85.08 L263.75,86.19 L263.57,87.30 L263.34,88.41 L263.08,89.53 L262.78,90.64 L262.43,91.75 L262.04,92.86 L261.59,93.97 L261.10,95.08 L260.56,96.19 L259.97,97.30 L259.33,98.41 L258.67,99.52 L257.97,100.64 L257.25,101.75 L256.52,102.86 L255.80,103.97 L255.11,105.08 L254.44,106.19 L253.84,107.30 L253.30,108.41 L252.85,109.52 L252.51,110.63 L252.29,111.75 L252.20,112.86 L252.25,113.97 L252.45,115.08 L252.78,116.19 L253.25,117.30 L253.83,118.41 L254.51,119.52 L255.27,120.63 L256.09,121.75 L256.92,122.86 L257.76,123.97 L258.57,125.08 L259.34,126.19 L260.05,127.30 L260.68,128.41 L261.22,129.52 L261.68,130.63 L262.05,131.74 L262.34,132.86 L262.55,133.97 L262.69,135.08 L262.76,136.19 L262.78,137.30 L262.76,138.41 L262.70,139.52 L262.62,140.63 L262.52,141.74 L262.41,142.85 L262.31,143.97 L262.21,145.08 L262.13,146.19 L262.07,147.30 L262.03,148.41 L262.02,149.52 L262.04,150.63 L262.09,151.74 L262.16,152.85 L262.25,153.97 L262.37,155.08 L262.50,156.19 L262.64,157.30 L262.79,158.41 L262.94,159.52 L263.09,160.63 L263.22,161.74 L263.35,162.85 L263.47,163.96 L263.57,165.08 L263.65,166.19 L263.73,167.30 L263.79,168.41 L263.85,169.52 L263.90,170.63 L263.94,171.74 L263.99,172.85 L264.03,173.96 L264.07,175.07 L264.11,176.19 L264.16,177.30 L264.20,178.41 L264.24,179.52 L264.28,180.63 L264.32,181.74 L264.35,182.85 L264.38,183.96 L264.40,185.07 L264.43,186.18 L264.44,187.30 L264.56,187.30 L264.57,186.18 L264.60,185.07 L264.62,183.96 L264.65,182.85 L264.68,181.74 L264.72,180.63 L264.76,179.52 L264.80,178.41 L264.84,177.30 L264.89,176.19 L264.93,175.07 L264.97,173.96 L265.01,172.85 L265.06,171.74 L265.10,170.63 L265.15,169.52 L265.21,168.41 L265.27,167.30 L265.35,166.19 L265.43,165.08 L265.53,163.96 L265.65,162.85 L265.78,161.74 L265.91,160.63 L266.06,159.52 L266.21,158.41 L266.36,157.30 L266.50,156.19 L266.63,155.08 L266.75,153.97 L266.84,152.85 L266.91,151.74 L266.96,150.63 L266.98,149.52 L266.97,148.41 L266.93,147.30 L266.87,146.19 L266.79,145.08 L266.69,143.97 L266.59,142.85 L266.48,141.74 L266.38,140.63 L266.30,139.52 L266.24,138.41 L266.22,137.30 L266.24,136.19 L266.31,135.08 L266.45,133.97 L266.66,132.86 L266.95,131.74 L267.32,130.63 L267.78,129.52 L268.32,128.41 L268.95,127.30 L269.66,126.19 L270.43,125.08 L271.24,123.97 L272.08,122.86 L272.91,121.75 L273.73,120.63 L274.49,119.52 L275.17,118.41 L275.75,117.30 L276.22,116.19 L276.55,115.08 L276.75,113.97 L276.80,112.86 L276.71,111.75 L276.49,110.63 L276.15,109.52 L275.70,108.41 L275.16,107.30 L274.56,106.19 L273.89,105.08 L273.20,103.97 L272.48,102.86 L271.75,101.75 L271.03,100.64 L270.33,99.52 L269.67,98.41 L269.03,97.30 L268.44,96.19 L267.90,95.08 L267.41,93.97 L266.96,92.86 L266.57,91.75 L266.22,90.64 L265.92,89.53 L265.66,88.41 L265.43,87.30 L265.25,86.19 L265.09,85.08 L264.96,83.97 L264.86,82.86 L264.77,81.75 L264.71,80.64 L264.65,79.53 L264.61,78.42 L264.58,77.30Z" fill="#8d7866" stroke="#494949" stroke-width="0.9" stroke-linejoin="round"/><line x1="264.5" y1="93.00" x2="264.5" y2="131.90" stroke="#494949" stroke-width="0.9"/><line x1="264.5" y1="106.20" x2="264.5" y2="117.03" stroke="#494949" stroke-width="3.3"/><circle cx="264.5" cy="111.50" r="1.1" fill="#f4f4f4" stroke="#494949" stroke-width="0.5"/><circle cx="264.50" cy="93.00" r="1.4" fill="#111"/><circle cx="265.90" cy="98.80" r="1.4" fill="#111"/><circle cx="262.70" cy="100.00" r="1.4" fill="#111"/><circle cx="264.10" cy="101.80" r="1.4" fill="#111"/><circle cx="267.10" cy="102.70" r="1.4" fill="#111"/><circle cx="263.60" cy="104.10" r="1.4" fill="#111"/><circle cx="268.00" cy="104.50" r="1.4" fill="#111"/><circle cx="260.00" cy="106.20" r="1.4" fill="#111"/><circle cx="266.20" cy="106.20" r="1.4" fill="#111"/><circle cx="269.80" cy="105.90" r="1.4" fill="#111"/><circle cx="257.40" cy="108.00" r="1.4" fill="#111"/><circle cx="261.80" cy="108.50" r="1.4" fill="#111"/><circle cx="267.10" cy="108.90" r="1.4" fill="#111"/><circle cx="271.50" cy="108.00" r="1.4" fill="#111"/><circle cx="255.60" cy="110.70" r="1.4" fill="#111"/><circle cx="259.20" cy="111.50" r="1.4" fill="#111"/><circle cx="264.50" cy="111.20" r="1.4" fill="#111"/><circle cx="268.90" cy="111.50" r="1.4" fill="#111"/><circle cx="273.30" cy="111.20" r="1.4" fill="#111"/><circle cx="255.60" cy="114.20" r="1.4" fill="#111"/><circle cx="260.00" cy="114.70" r="1.4" fill="#111"/><circle cx="264.60" cy="114.00" r="1.4" fill="#111"/><circle cx="269.80" cy="114.20" r="1.4" fill="#111"/><circle cx="274.20" cy="113.30" r="1.4" fill="#111"/><circle cx="258.30" cy="116.90" r="1.4" fill="#111"/><circle cx="262.70" cy="117.40" r="1.4" fill="#111"/><circle cx="267.10" cy="116.90" r="1.4" fill="#111"/><circle cx="271.50" cy="116.50" r="1.4" fill="#111"/><circle cx="260.90" cy="119.50" r="1.4" fill="#111"/><circle cx="264.50" cy="120.00" r="1.4" fill="#111"/><circle cx="268.20" cy="119.60" r="1.4" fill="#111"/><circle cx="262.70" cy="122.20" r="1.4" fill="#111"/><circle cx="264.50" cy="131.90" r="1.4" fill="#111"/><circle cx="261.60" cy="156.80" r="1.4" fill="#111"/><circle cx="266.20" cy="154.80" r="1.4" fill="#111"/><circle cx="264.50" cy="171.60" r="1.4" fill="#111"/><path d="M306.70,69.58 L306.66,70.98 L306.62,72.38 L306.57,73.78 L306.50,75.18 L306.43,76.58 L306.34,77.98 L306.23,79.38 L306.11,80.77 L305.97,82.17 L305.81,83.57 L305.63,84.97 L305.43,86.37 L305.22,87.77 L304.99,89.17 L304.75,90.57 L304.50,91.97 L304.24,93.37 L303.97,94.76 L303.70,96.16 L303.43,97.56 L303.17,98.96 L302.91,100.36 L302.67,101.76 L302.44,103.16 L302.23,104.56 L302.04,105.96 L301.87,107.36 L301.73,108.75 L301.61,110.15 L301.53,111.55 L301.48,112.95 L301.45,114.35 L301.46,115.75 L301.49,117.15 L301.55,118.55 L301.64,119.95 L301.74,121.35 L301.87,122.74 L302.02,124.14 L302.18,125.54 L302.36,126.94 L302.55,128.34 L302.74,129.74 L302.93,131.14 L303.12,132.54 L303.31,133.94 L303.49,135.34 L303.66,136.73 L303.81,138.13 L303.94,139.53 L304.04,140.93 L304.12,142.33 L304.16,143.73 L304.18,145.13 L304.15,146.53 L304.09,147.93 L304.00,149.33 L303.88,150.72 L303.72,152.12 L303.55,153.52 L303.36,154.92 L303.16,156.32 L302.96,157.72 L302.77,159.12 L302.60,160.52 L302.45,161.92 L302.34,163.32 L302.27,164.72 L302.24,166.11 L302.26,167.51 L302.33,168.91 L302.45,170.31 L302.60,171.71 L302.80,173.11 L303.03,174.51 L303.28,175.91 L303.55,177.31 L303.83,178.71 L304.12,180.10 L304.40,181.50 L304.67,182.90 L304.93,184.30 L305.17,185.70 L305.39,187.10 L305.59,188.50 L305.78,189.90 L305.94,191.30 L306.08,192.70 L306.20,194.09 L306.31,195.49 L306.39,196.89 L306.47,198.29 L306.54,199.69 L306.59,201.09 L306.63,202.49 L306.67,203.89 L306.70,205.29 L306.72,206.69 L306.74,208.08 L306.86,208.08 L306.88,206.69 L306.90,205.29 L306.93,203.89 L306.97,202.49 L307.01,201.09 L307.06,199.69 L307.13,198.29 L307.21,196.89 L307.29,195.49 L307.40,194.09 L307.52,192.70 L307.66,191.30 L307.82,189.90 L308.01,188.50 L308.21,187.10 L308.43,185.70 L308.67,184.30 L308.93,182.90 L309.20,181.50 L309.48,180.10 L309.77,178.71 L310.05,177.31 L310.32,175.91 L310.57,174.51 L310.80,173.11 L311.00,171.71 L311.15,170.31 L311.27,168.91 L311.34,167.51 L311.36,166.11 L311.33,164.72 L311.26,163.32 L311.15,161.92 L311.00,160.52 L310.83,159.12 L310.64,157.72 L310.44,156.32 L310.24,154.92 L310.05,153.52 L309.88,152.12 L309.72,150.72 L309.60,149.33 L309.51,147.93 L309.45,146.53 L309.42,145.13 L309.44,143.73 L309.48,142.33 L309.56,140.93 L309.66,139.53 L309.79,138.13 L309.94,136.73 L310.11,135.34 L310.29,133.94 L310.48,132.54 L310.67,131.14 L310.86,129.74 L311.05,128.34 L311.24,126.94 L311.42,125.54 L311.58,124.14 L311.73,122.74 L311.86,121.35 L311.96,119.95 L312.05,118.55 L312.11,117.15 L312.14,115.75 L312.15,114.35 L312.12,112.95 L312.07,111.55 L311.99,110.15 L311.87,108.75 L311.73,107.36 L311.56,105.96 L311.37,104.56 L311.16,103.16 L310.93,101.76 L310.69,100.36 L310.43,98.96 L310.17,97.56 L309.90,96.16 L309.63,94.76 L309.36,93.37 L309.10,91.97 L308.85,90.57 L308.61,89.17 L308.38,87.77 L308.17,86.37 L307.97,84.97 L307.79,83.57 L307.63,82.17 L307.49,80.77 L307.37,79.38 L307.26,77.98 L307.17,76.58 L307.10,75.18 L307.03,73.78 L306.98,72.38 L306.94,70.98 L306.90,69.58Z" fill="#d095bf" stroke="#494949" stroke-width="0.9" stroke-linejoin="round"/><line x1="306.8" y1="92.88" x2="306.8" y2="184.79" stroke="#494949" stroke-width="0.9"/><line x1="306.8" y1="109.94" x2="306.8" y2="161.22" stroke="#494949" stroke-width="3.3"/><circle cx="306.8" cy="124.65" r="1.1" fill="#f4f4f4" stroke="#494949" stroke-width="0.5"/><circle cx="306.80" cy="92.88" r="1.4" fill="#111"/><circle cx="304.84" cy="95.56" r="1.4" fill="#111"/><circle cx="307.54" cy="95.67" r="1.4" fill="#111"/><circle cx="311.29" cy="98.55" r="1.4" fill="#111"/><circle cx="301.86" cy="99.25" r="1.4" fill="#111"/><circle cx="306.35" cy="98.09" r="1.4" fill="#111"/><circle cx="306.80" cy="100.76" r="1.4" fill="#111"/><circle cx="309.49" cy="100.57" r="1.4" fill="#111"/><circle cx="304.10" cy="100.75" r="1.4" fill="#111"/><circle cx="294.01" cy="109.08" r="1.4" fill="#111"/><circle cx="299.32" cy="109.89" r="1.4" fill="#111"/><circle cx="316.99" cy="109.10" r="1.4" fill="#111"/><circle cx="301.98" cy="110.37" r="1.4" fill="#111"/><circle cx="296.71" cy="109.21" r="1.4" fill="#111"/><circle cx="314.31" cy="109.41" r="1.4" fill="#111"/><circle cx="319.69" cy="109.07" r="1.4" fill="#111"/><circle cx="311.67" cy="110.00" r="1.4" fill="#111"/><circle cx="306.80" cy="109.56" r="1.4" fill="#111"/><circle cx="304.11" cy="112.03" r="1.4" fill="#111"/><circle cx="306.80" cy="112.27" r="1.4" fill="#111"/><circle cx="309.34" cy="111.36" r="1.4" fill="#111"/><circle cx="304.11" cy="114.96" r="1.4" fill="#111"/><circle cx="306.80" cy="115.19" r="1.4" fill="#111"/><circle cx="309.46" cy="114.73" r="1.4" fill="#111"/><circle cx="304.24" cy="117.92" r="1.4" fill="#111"/><circle cx="309.32" cy="117.81" r="1.4" fill="#111"/><circle cx="306.80" cy="118.78" r="1.4" fill="#111"/><circle cx="304.18" cy="121.60" r="1.4" fill="#111"/><circle cx="306.80" cy="122.24" r="1.4" fill="#111"/><circle cx="309.29" cy="121.20" r="1.4" fill="#111"/><circle cx="304.23" cy="124.75" r="1.4" fill="#111"/><circle cx="306.80" cy="125.57" r="1.4" fill="#111"/><circle cx="312.03" cy="124.47" r="1.4" fill="#111"/><circle cx="309.34" cy="124.65" r="1.4" fill="#111"/><circle cx="306.80" cy="128.69" r="1.4" fill="#111"/><circle cx="304.10" cy="128.54" r="1.4" fill="#111"/><circle cx="309.50" cy="128.54" r="1.4" fill="#111"/><circle cx="304.26" cy="131.55" r="1.4" fill="#111"/><circle cx="306.80" cy="132.46" r="1.4" fill="#111"/><circle cx="304.13" cy="135.08" r="1.4" fill="#111"/><circle cx="306.80" cy="135.45" r="1.4" fill="#111"/><circle cx="306.80" cy="141.26" r="1.4" fill="#111"/><circle cx="306.80" cy="147.37" r="1.4" fill="#111"/><circle cx="304.24" cy="146.52" r="1.4" fill="#111"/><circle cx="306.80" cy="160.11" r="1.4" fill="#111"/><circle cx="309.28" cy="159.05" r="1.4" fill="#111"/><circle cx="304.11" cy="159.88" r="1.4" fill="#111"/><circle cx="306.80" cy="163.43" r="1.4" fill="#111"/><circle cx="309.26" cy="162.33" r="1.4" fill="#111"/><circle cx="304.17" cy="162.82" r="1.4" fill="#111"/><circle cx="304.11" cy="166.46" r="1.4" fill="#111"/><circle cx="306.80" cy="166.72" r="1.4" fill="#111"/><circle cx="309.44" cy="166.15" r="1.4" fill="#111"/><circle cx="305.83" cy="169.92" r="1.4" fill="#111"/><circle cx="302.55" cy="170.09" r="1.4" fill="#111"/><circle cx="300.15" cy="168.86" r="1.4" fill="#111"/><circle cx="311.28" cy="170.05" r="1.4" fill="#111"/><circle cx="308.44" cy="169.22" r="1.4" fill="#111"/><circle cx="304.10" cy="172.30" r="1.4" fill="#111"/><circle cx="309.47" cy="172.06" r="1.4" fill="#111"/><circle cx="306.80" cy="172.44" r="1.4" fill="#111"/><circle cx="304.22" cy="184.01" r="1.4" fill="#111"/><circle cx="306.80" cy="184.79" r="1.4" fill="#111"/><path d="M349.41,72.87 L349.38,74.21 L349.34,75.54 L349.29,76.88 L349.23,78.22 L349.16,79.56 L349.07,80.90 L348.97,82.24 L348.86,83.58 L348.72,84.92 L348.56,86.25 L348.39,87.59 L348.19,88.93 L347.97,90.27 L347.73,91.61 L347.47,92.95 L347.19,94.29 L346.89,95.63 L346.58,96.96 L346.26,98.30 L345.93,99.64 L345.59,100.98 L345.25,102.32 L344.93,103.66 L344.61,105.00 L344.31,106.34 L344.04,107.67 L343.81,109.01 L343.61,110.35 L343.46,111.69 L343.36,113.03 L343.32,114.37 L343.33,115.71 L343.40,117.05 L343.52,118.38 L343.69,119.72 L343.91,121.06 L344.18,122.40 L344.47,123.74 L344.79,125.08 L345.13,126.42 L345.47,127.76 L345.81,129.09 L346.13,130.43 L346.43,131.77 L346.71,133.11 L346.94,134.45 L347.14,135.79 L347.29,137.13 L347.39,138.47 L347.44,139.80 L347.43,141.14 L347.38,142.48 L347.28,143.82 L347.13,145.16 L346.95,146.50 L346.74,147.84 L346.50,149.17 L346.24,150.51 L345.97,151.85 L345.71,153.19 L345.45,154.53 L345.22,155.87 L345.01,157.21 L344.83,158.55 L344.69,159.88 L344.59,161.22 L344.54,162.56 L344.53,163.90 L344.57,165.24 L344.65,166.58 L344.77,167.92 L344.92,169.26 L345.11,170.59 L345.32,171.93 L345.56,173.27 L345.80,174.61 L346.06,175.95 L346.32,177.29 L346.58,178.63 L346.84,179.97 L347.10,181.30 L347.35,182.64 L347.58,183.98 L347.81,185.32 L348.02,186.66 L348.21,188.00 L348.39,189.34 L348.56,190.68 L348.70,192.01 L348.83,193.35 L348.95,194.69 L349.05,196.03 L349.14,197.37 L349.21,198.71 L349.27,200.05 L349.32,201.39 L349.36,202.72 L349.40,204.06 L349.42,205.40 L349.58,205.40 L349.60,204.06 L349.64,202.72 L349.68,201.39 L349.73,200.05 L349.79,198.71 L349.86,197.37 L349.95,196.03 L350.05,194.69 L350.17,193.35 L350.30,192.01 L350.44,190.68 L350.61,189.34 L350.79,188.00 L350.98,186.66 L351.19,185.32 L351.42,183.98 L351.65,182.64 L351.90,181.30 L352.16,179.97 L352.42,178.63 L352.68,177.29 L352.94,175.95 L353.20,174.61 L353.44,173.27 L353.68,171.93 L353.89,170.59 L354.08,169.26 L354.23,167.92 L354.35,166.58 L354.43,165.24 L354.47,163.90 L354.46,162.56 L354.41,161.22 L354.31,159.88 L354.17,158.55 L353.99,157.21 L353.78,155.87 L353.55,154.53 L353.29,153.19 L353.03,151.85 L352.76,150.51 L352.50,149.17 L352.26,147.84 L352.05,146.50 L351.87,145.16 L351.72,143.82 L351.62,142.48 L351.57,141.14 L351.56,139.80 L351.61,138.47 L351.71,137.13 L351.86,135.79 L352.06,134.45 L352.29,133.11 L352.57,131.77 L352.87,130.43 L353.19,129.09 L353.53,127.76 L353.87,126.42 L354.21,125.08 L354.53,123.74 L354.82,122.40 L355.09,121.06 L355.31,119.72 L355.48,118.38 L355.60,117.05 L355.67,115.71 L355.68,114.37 L355.64,113.03 L355.54,111.69 L355.39,110.35 L355.19,109.01 L354.96,107.67 L354.69,106.34 L354.39,105.00 L354.07,103.66 L353.75,102.32 L353.41,100.98 L353.07,99.64 L352.74,98.30 L352.42,96.96 L352.11,95.63 L351.81,94.29 L351.53,92.95 L351.27,91.61 L351.03,90.27 L350.81,88.93 L350.61,87.59 L350.44,86.25 L350.28,84.92 L350.14,83.58 L350.03,82.24 L349.93,80.90 L349.84,79.56 L349.77,78.22 L349.71,76.88 L349.66,75.54 L349.62,74.21 L349.59,72.87Z" fill="#8c8c8c" stroke="#494949" stroke-width="0.9" stroke-linejoin="round"/><line x1="349.5" y1="94.37" x2="349.5" y2="182.32" stroke="#494949" stroke-width="0.9"/><line x1="349.5" y1="113.34" x2="349.5" y2="161.54" stroke="#494949" stroke-width="3.3"/><circle cx="349.5" cy="123.19" r="1.1" fill="#f4f4f4" stroke="#494949" stroke-width="0.5"/><circle cx="348.53" cy="94.61" r="1.4" fill="#111"/><circle cx="345.84" cy="94.37" r="1.4" fill="#111"/><circle cx="352.18" cy="96.80" r="1.4" fill="#111"/><circle cx="349.50" cy="97.13" r="1.4" fill="#111"/><circle cx="349.50" cy="99.99" r="1.4" fill="#111"/><circle cx="346.86" cy="99.41" r="1.4" fill="#111"/><circle cx="350.30" cy="103.08" r="1.4" fill="#111"/><circle cx="347.73" cy="103.89" r="1.4" fill="#111"/><circle cx="352.98" cy="102.73" r="1.4" fill="#111"/><circle cx="355.55" cy="106.74" r="1.4" fill="#111"/><circle cx="349.50" cy="105.92" r="1.4" fill="#111"/><circle cx="345.43" cy="105.91" r="1.4" fill="#111"/><circle cx="352.03" cy="108.06" r="1.4" fill="#111"/><circle cx="346.94" cy="108.15" r="1.4" fill="#111"/><circle cx="349.50" cy="109.00" r="1.4" fill="#111"/><circle cx="354.92" cy="109.37" r="1.4" fill="#111"/><circle cx="343.20" cy="108.39" r="1.4" fill="#111"/><circle cx="347.52" cy="110.84" r="1.4" fill="#111"/><circle cx="344.84" cy="110.54" r="1.4" fill="#111"/><circle cx="350.08" cy="111.69" r="1.4" fill="#111"/><circle cx="352.63" cy="110.81" r="1.4" fill="#111"/><circle cx="352.27" cy="114.10" r="1.4" fill="#111"/><circle cx="345.73" cy="113.53" r="1.4" fill="#111"/><circle cx="354.80" cy="113.14" r="1.4" fill="#111"/><circle cx="348.41" cy="113.81" r="1.4" fill="#111"/><circle cx="347.57" cy="116.44" r="1.4" fill="#111"/><circle cx="354.22" cy="116.44" r="1.4" fill="#111"/><circle cx="359.51" cy="115.35" r="1.4" fill="#111"/><circle cx="340.13" cy="115.61" r="1.4" fill="#111"/><circle cx="356.89" cy="116.01" r="1.4" fill="#111"/><circle cx="343.38" cy="115.38" r="1.4" fill="#111"/><circle cx="350.20" cy="115.83" r="1.4" fill="#111"/><circle cx="344.57" cy="117.80" r="1.4" fill="#111"/><circle cx="341.87" cy="117.68" r="1.4" fill="#111"/><circle cx="352.07" cy="118.07" r="1.4" fill="#111"/><circle cx="349.40" cy="118.43" r="1.4" fill="#111"/><circle cx="356.06" cy="119.00" r="1.4" fill="#111"/><circle cx="351.00" cy="120.61" r="1.4" fill="#111"/><circle cx="353.67" cy="120.25" r="1.4" fill="#111"/><circle cx="343.00" cy="120.19" r="1.4" fill="#111"/><circle cx="348.32" cy="120.92" r="1.4" fill="#111"/><circle cx="345.70" cy="120.25" r="1.4" fill="#111"/><circle cx="344.11" cy="123.10" r="1.4" fill="#111"/><circle cx="349.50" cy="123.35" r="1.4" fill="#111"/><circle cx="346.80" cy="123.32" r="1.4" fill="#111"/><circle cx="352.20" cy="123.19" r="1.4" fill="#111"/><circle cx="352.13" cy="125.94" r="1.4" fill="#111"/><circle cx="349.50" cy="126.54" r="1.4" fill="#111"/><circle cx="346.81" cy="126.30" r="1.4" fill="#111"/><circle cx="351.83" cy="129.14" r="1.4" fill="#111"/><circle cx="349.15" cy="129.47" r="1.4" fill="#111"/><circle cx="349.50" cy="132.14" r="1.4" fill="#111"/><circle cx="346.96" cy="148.93" r="1.4" fill="#111"/><circle cx="349.50" cy="149.86" r="1.4" fill="#111"/><circle cx="352.03" cy="152.06" r="1.4" fill="#111"/><circle cx="349.50" cy="153.01" r="1.4" fill="#111"/><circle cx="346.85" cy="152.47" r="1.4" fill="#111"/><circle cx="352.13" cy="155.77" r="1.4" fill="#111"/><circle cx="349.50" cy="156.38" r="1.4" fill="#111"/><circle cx="346.01" cy="156.22" r="1.4" fill="#111"/><circle cx="349.50" cy="159.09" r="1.4" fill="#111"/><circle cx="354.86" cy="158.48" r="1.4" fill="#111"/><circle cx="352.18" cy="158.76" r="1.4" fill="#111"/><circle cx="346.82" cy="158.80" r="1.4" fill="#111"/><circle cx="354.69" cy="161.51" r="1.4" fill="#111"/><circle cx="351.99" cy="161.56" r="1.4" fill="#111"/><circle cx="349.50" cy="162.61" r="1.4" fill="#111"/><circle cx="346.81" cy="162.33" r="1.4" fill="#111"/><circle cx="354.81" cy="165.93" r="1.4" fill="#111"/><circle cx="349.50" cy="166.64" r="1.4" fill="#111"/><circle cx="352.11" cy="165.96" r="1.4" fill="#111"/><circle cx="344.15" cy="165.89" r="1.4" fill="#111"/><circle cx="357.51" cy="165.89" r="1.4" fill="#111"/><circle cx="341.47" cy="165.63" r="1.4" fill="#111"/><circle cx="346.82" cy="166.34" r="1.4" fill="#111"/><circle cx="349.50" cy="170.11" r="1.4" fill="#111"/><circle cx="346.80" cy="170.02" r="1.4" fill="#111"/><circle cx="352.15" cy="169.58" r="1.4" fill="#111"/><circle cx="349.50" cy="175.00" r="1.4" fill="#111"/><circle cx="344.19" cy="174.24" r="1.4" fill="#111"/><circle cx="352.11" cy="174.32" r="1.4" fill="#111"/><circle cx="346.80" cy="174.92" r="1.4" fill="#111"/><circle cx="346.84" cy="178.01" r="1.4" fill="#111"/><circle cx="349.50" cy="178.45" r="1.4" fill="#111"/><circle cx="352.05" cy="177.55" r="1.4" fill="#111"/><circle cx="346.83" cy="181.92" r="1.4" fill="#111"/><circle cx="349.50" cy="182.32" r="1.4" fill="#111"/><rect x="32.5" y="60.6" width="338.0" height="164.4" fill="none" stroke="#d0d0d0" stroke-width="1"/><text transform="translate(53.62,239.1) scale(0.84,1)" font-size="8.8" text-anchor="middle" fill="#3c3c3c" stroke="#3c3c3c" stroke-width="0.15">1</text><text transform="translate(95.88,239.1) scale(0.84,1)" font-size="8.8" text-anchor="middle" fill="#3c3c3c" stroke="#3c3c3c" stroke-width="0.15">2</text><text transform="translate(138.12,239.1) scale(0.84,1)" font-size="8.8" text-anchor="middle" fill="#3c3c3c" stroke="#3c3c3c" stroke-width="0.15">3</text><text transform="translate(180.38,239.1) scale(0.84,1)" font-size="8.8" text-anchor="middle" fill="#3c3c3c" stroke="#3c3c3c" stroke-width="0.15">4</text><text transform="translate(222.62,239.1) scale(0.84,1)" font-size="8.8" text-anchor="middle" fill="#3c3c3c" stroke="#3c3c3c" stroke-width="0.15">5</text><text transform="translate(264.88,239.1) scale(0.84,1)" font-size="8.8" text-anchor="middle" fill="#3c3c3c" stroke="#3c3c3c" stroke-width="0.15">6</text><text transform="translate(307.12,239.1) scale(0.84,1)" font-size="8.8" text-anchor="middle" fill="#3c3c3c" stroke="#3c3c3c" stroke-width="0.15">7</text><text transform="translate(349.38,239.1) scale(0.84,1)" font-size="8.8" text-anchor="middle" fill="#3c3c3c" stroke="#3c3c3c" stroke-width="0.15">8</text><text x="201.6" y="251.4" font-size="10.6" text-anchor="middle" fill="#3a3a3a">physician</text><text transform="translate(8.6,143.7) rotate(-90)" font-size="10.8" text-anchor="middle" fill="#3a3a3a">length of esophagus (cm)</text><text x="40.5" y="74.8" font-size="16" fill="#111" stroke="#111" stroke-width="0.2">a)</text><rect x="417.80" y="29.20" width="223.10" height="223.10" fill="#03051a" shape-rendering="crispEdges"/><rect x="417.80" y="29.20" width="27.80" height="27.30" fill="#faebdd" shape-rendering="crispEdges"/><rect x="445.60" y="29.20" width="27.20" height="27.30" fill="#0b0920" shape-rendering="crispEdges"/><rect x="472.80" y="29.20" width="27.80" height="27.30" fill="#2d1738" shape-rendering="crispEdges"/><rect x="557.70" y="29.20" width="27.20" height="27.30" fill="#f7c6a6" shape-rendering="crispEdges"/><rect x="584.90" y="29.20" width="28.20" height="27.30" fill="#05061b" shape-rendering="crispEdges"/><rect x="445.60" y="56.50" width="27.20" height="27.50" fill="#faebdd" shape-rendering="crispEdges"/><rect x="472.80" y="56.50" width="27.80" height="27.50" fill="#ee523f" shape-rendering="crispEdges"/><rect x="529.30" y="56.50" width="28.40" height="27.50" fill="#1a102a" shape-rendering="crispEdges"/><rect x="557.70" y="56.50" width="27.20" height="27.50" fill="#08081e" shape-rendering="crispEdges"/><rect x="584.90" y="56.50" width="28.20" height="27.50" fill="#f47a54" shape-rendering="crispEdges"/><rect x="613.10" y="56.50" width="27.80" height="27.50" fill="#7a1f59" shape-rendering="crispEdges"/><rect x="472.80" y="84.00" width="27.80" height="28.00" fill="#faebdd" shape-rendering="crispEdges"/><rect x="529.30" y="84.00" width="28.40" height="28.00" fill="#0b0920" shape-rendering="crispEdges"/><rect x="557.70" y="84.00" width="27.20" height="28.00" fill="#2a1636" shape-rendering="crispEdges"/><rect x="584.90" y="84.00" width="28.20" height="28.00" fill="#a4195b" shape-rendering="crispEdges"/><rect x="613.10" y="84.00" width="27.80" height="28.00" fill="#3c1a42" shape-rendering="crispEdges"/><rect x="500.60" y="112.00" width="28.70" height="27.80" fill="#faebdd" shape-rendering="crispEdges"/><rect x="529.30" y="112.00" width="28.40" height="27.80" fill="#1a102a" shape-rendering="crispEdges"/><rect x="613.10" y="112.00" width="27.80" height="27.80" fill="#05061b" shape-rendering="crispEdges"/><rect x="529.30" y="139.80" width="28.40" height="28.80" fill="#faebdd" shape-rendering="crispEdges"/><rect x="584.90" y="139.80" width="28.20" height="28.80" fill="#2a1636" shape-rendering="crispEdges"/><rect x="613.10" y="139.80" width="27.80" height="28.80" fill="#6d1f56" shape-rendering="crispEdges"/><rect x="557.70" y="168.60" width="27.20" height="27.40" fill="#faebdd" shape-rendering="crispEdges"/><rect x="584.90" y="168.60" width="28.20" height="27.40" fill="#05061b" shape-rendering="crispEdges"/><rect x="584.90" y="196.00" width="28.20" height="28.00" fill="#faebdd" shape-rendering="crispEdges"/><rect x="613.10" y="196.00" width="27.80" height="28.00" fill="#cb1b4f" shape-rendering="crispEdges"/><rect x="613.10" y="224.00" width="27.80" height="28.30" fill="#faebdd" shape-rendering="crispEdges"/><rect x="449.60" y="37.65" width="19.2" height="10.4" rx="2" fill="#fff"/><text x="459.20" y="44.65" font-size="7.3" text-anchor="middle" fill="#505050" stroke="#505050" stroke-width="0.15">0.03</text><rect x="505.35" y="37.65" width="19.2" height="10.4" rx="2" fill="#fff"/><text x="514.95" y="44.65" font-size="7.3" text-anchor="middle" fill="#505050" stroke="#505050" stroke-width="0.15">0.00</text><rect x="533.90" y="37.65" width="19.2" height="10.4" rx="2" fill="#fff"/><text x="543.50" y="44.65" font-size="7.3" text-anchor="middle" fill="#505050" stroke="#505050" stroke-width="0.15">0.00</text><rect x="589.40" y="37.65" width="19.2" height="10.4" rx="2" fill="#fff"/><text x="599.00" y="44.65" font-size="7.3" text-anchor="middle" fill="#505050" stroke="#505050" stroke-width="0.15">0.01</text><rect x="617.40" y="37.65" width="19.2" height="10.4" rx="2" fill="#fff"/><text x="627.00" y="44.65" font-size="7.3" text-anchor="middle" fill="#505050" stroke="#505050" stroke-width="0.15">0.00</text><rect x="505.35" y="65.05" width="19.2" height="10.4" rx="2" fill="#fff"/><text x="514.95" y="72.05" font-size="7.3" text-anchor="middle" fill="#505050" stroke="#505050" stroke-width="0.15">0.00</text><rect x="561.70" y="65.05" width="19.2" height="10.4" rx="2" fill="#fff"/><text x="571.30" y="72.05" font-size="7.3" text-anchor="middle" fill="#505050" stroke="#505050" stroke-width="0.15">0.02</text><rect x="505.35" y="92.80" width="19.2" height="10.4" rx="2" fill="#fff"/><text x="514.95" y="99.80" font-size="7.3" text-anchor="middle" fill="#505050" stroke="#505050" stroke-width="0.15">0.00</text><rect x="533.90" y="92.80" width="19.2" height="10.4" rx="2" fill="#fff"/><text x="543.50" y="99.80" font-size="7.3" text-anchor="middle" fill="#505050" stroke="#505050" stroke-width="0.15">0.03</text><rect x="561.70" y="120.70" width="19.2" height="10.4" rx="2" fill="#fff"/><text x="571.30" y="127.70" font-size="7.3" text-anchor="middle" fill="#505050" stroke="#505050" stroke-width="0.15">0.00</text><rect x="589.40" y="120.70" width="19.2" height="10.4" rx="2" fill="#fff"/><text x="599.00" y="127.70" font-size="7.3" text-anchor="middle" fill="#505050" stroke="#505050" stroke-width="0.15">0.00</text><rect x="617.40" y="120.70" width="19.2" height="10.4" rx="2" fill="#fff"/><text x="627.00" y="127.70" font-size="7.3" text-anchor="middle" fill="#505050" stroke="#505050" stroke-width="0.15">0.01</text><rect x="561.70" y="149.00" width="19.2" height="10.4" rx="2" fill="#fff"/><text x="571.30" y="156.00" font-size="7.3" text-anchor="middle" fill="#505050" stroke="#505050" stroke-width="0.15">0.00</text><rect x="589.40" y="177.10" width="19.2" height="10.4" rx="2" fill="#fff"/><text x="599.00" y="184.10" font-size="7.3" text-anchor="middle" fill="#505050" stroke="#505050" stroke-width="0.15">0.01</text><rect x="617.40" y="177.10" width="19.2" height="10.4" rx="2" fill="#fff"/><text x="627.00" y="184.10" font-size="7.3" text-anchor="middle" fill="#505050" stroke="#505050" stroke-width="0.15">0.00</text><text x="431.70" y="21.8" font-size="6.8" text-anchor="middle" fill="#3a3a3a" stroke="#3a3a3a" stroke-width="0.2">1</text><line x1="431.70" y1="25.2" x2="431.70" y2="28.5" stroke="#555" stroke-width="0.8"/><line x1="431.70" y1="253.4" x2="431.70" y2="256.2" stroke="#555" stroke-width="0.8"/><text x="409.3" y="46.05" font-size="6.8" text-anchor="middle" fill="#3a3a3a" stroke="#3a3a3a" stroke-width="0.2">1</text><text x="459.20" y="21.8" font-size="6.8" text-anchor="middle" fill="#3a3a3a" stroke="#3a3a3a" stroke-width="0.2">2</text><line x1="459.20" y1="25.2" x2="459.20" y2="28.5" stroke="#555" stroke-width="0.8"/><line x1="459.20" y1="253.4" x2="459.20" y2="256.2" stroke="#555" stroke-width="0.8"/><text x="409.3" y="73.45" font-size="6.8" text-anchor="middle" fill="#3a3a3a" stroke="#3a3a3a" stroke-width="0.2">2</text><text x="486.70" y="21.8" font-size="6.8" text-anchor="middle" fill="#3a3a3a" stroke="#3a3a3a" stroke-width="0.2">3</text><line x1="486.70" y1="25.2" x2="486.70" y2="28.5" stroke="#555" stroke-width="0.8"/><line x1="486.70" y1="253.4" x2="486.70" y2="256.2" stroke="#555" stroke-width="0.8"/><text x="409.3" y="101.20" font-size="6.8" text-anchor="middle" fill="#3a3a3a" stroke="#3a3a3a" stroke-width="0.2">3</text><text x="514.95" y="21.8" font-size="6.8" text-anchor="middle" fill="#3a3a3a" stroke="#3a3a3a" stroke-width="0.2">4</text><line x1="514.95" y1="25.2" x2="514.95" y2="28.5" stroke="#555" stroke-width="0.8"/><line x1="514.95" y1="253.4" x2="514.95" y2="256.2" stroke="#555" stroke-width="0.8"/><text x="409.3" y="129.10" font-size="6.8" text-anchor="middle" fill="#3a3a3a" stroke="#3a3a3a" stroke-width="0.2">4</text><text x="543.50" y="21.8" font-size="6.8" text-anchor="middle" fill="#3a3a3a" stroke="#3a3a3a" stroke-width="0.2">5</text><line x1="543.50" y1="25.2" x2="543.50" y2="28.5" stroke="#555" stroke-width="0.8"/><line x1="543.50" y1="253.4" x2="543.50" y2="256.2" stroke="#555" stroke-width="0.8"/><text x="409.3" y="157.40" font-size="6.8" text-anchor="middle" fill="#3a3a3a" stroke="#3a3a3a" stroke-width="0.2">5</text><text x="571.30" y="21.8" font-size="6.8" text-anchor="middle" fill="#3a3a3a" stroke="#3a3a3a" stroke-width="0.2">6</text><line x1="571.30" y1="25.2" x2="571.30" y2="28.5" stroke="#555" stroke-width="0.8"/><line x1="571.30" y1="253.4" x2="571.30" y2="256.2" stroke="#555" stroke-width="0.8"/><text x="409.3" y="185.50" font-size="6.8" text-anchor="middle" fill="#3a3a3a" stroke="#3a3a3a" stroke-width="0.2">6</text><text x="599.00" y="21.8" font-size="6.8" text-anchor="middle" fill="#3a3a3a" stroke="#3a3a3a" stroke-width="0.2">7</text><line x1="599.00" y1="25.2" x2="599.00" y2="28.5" stroke="#555" stroke-width="0.8"/><line x1="599.00" y1="253.4" x2="599.00" y2="256.2" stroke="#555" stroke-width="0.8"/><text x="409.3" y="213.20" font-size="6.8" text-anchor="middle" fill="#3a3a3a" stroke="#3a3a3a" stroke-width="0.2">7</text><text x="627.00" y="21.8" font-size="6.8" text-anchor="middle" fill="#3a3a3a" stroke="#3a3a3a" stroke-width="0.2">8</text><line x1="627.00" y1="25.2" x2="627.00" y2="28.5" stroke="#555" stroke-width="0.8"/><line x1="627.00" y1="253.4" x2="627.00" y2="256.2" stroke="#555" stroke-width="0.8"/><text x="409.3" y="241.35" font-size="6.8" text-anchor="middle" fill="#3a3a3a" stroke="#3a3a3a" stroke-width="0.2">8</text><text x="537.7" y="266.3" font-size="9.6" text-anchor="middle" fill="#1a1a1a" stroke="#1a1a1a" stroke-width="0.15">physician</text><text transform="translate(399,148) rotate(-90)" font-size="9.6" text-anchor="middle" fill="#1a1a1a" stroke="#1a1a1a" stroke-width="0.15">physician</text><text x="385.5" y="74.4" font-size="16" fill="#111" stroke="#111" stroke-width="0.2">b)</text><defs><linearGradient id="cb" x1="0" y1="0" x2="0" y2="1"><stop offset="0.000" stop-color="#faebdd"/><stop offset="0.050" stop-color="#f8d9c3"/><stop offset="0.100" stop-color="#f7c6a6"/><stop offset="0.150" stop-color="#f6b18b"/><stop offset="0.200" stop-color="#f69c73"/><stop offset="0.250" stop-color="#f58860"/><stop offset="0.300" stop-color="#f3714d"/><stop offset="0.350" stop-color="#ef5840"/><stop offset="0.400" stop-color="#e83f3f"/><stop offset="0.450" stop-color="#db2946"/><stop offset="0.500" stop-color="#cb1b4f"/><stop offset="0.550" stop-color="#b71657"/><stop offset="0.600" stop-color="#a11a5b"/><stop offset="0.650" stop-color="#8b1d5b"/><stop offset="0.700" stop-color="#751f58"/><stop offset="0.750" stop-color="#611f53"/><stop offset="0.800" stop-color="#4c1d4b"/><stop offset="0.850" stop-color="#381a40"/><stop offset="0.900" stop-color="#251433"/><stop offset="0.950" stop-color="#130d25"/><stop offset="1.000" stop-color="#03051a"/></linearGradient></defs><rect x="655.9" y="5.0" width="12.8" height="271.2" fill="url(#cb)"/><line x1="669.2" y1="276.80" x2="672.9" y2="276.80" stroke="#444" stroke-width="1.1"/><text x="674.2" y="279.30" font-size="7" fill="#4a4a4a" stroke="#4a4a4a" stroke-width="0.15">0.0</text><line x1="669.2" y1="222.44" x2="672.9" y2="222.44" stroke="#444" stroke-width="1.1"/><text x="674.2" y="224.94" font-size="7" fill="#4a4a4a" stroke="#4a4a4a" stroke-width="0.15">0.2</text><line x1="669.2" y1="168.08" x2="672.9" y2="168.08" stroke="#444" stroke-width="1.1"/><text x="674.2" y="170.58" font-size="7" fill="#4a4a4a" stroke="#4a4a4a" stroke-width="0.15">0.4</text><line x1="669.2" y1="113.72" x2="672.9" y2="113.72" stroke="#444" stroke-width="1.1"/><text x="674.2" y="116.22" font-size="7" fill="#4a4a4a" stroke="#4a4a4a" stroke-width="0.15">0.6</text><line x1="669.2" y1="59.36" x2="672.9" y2="59.36" stroke="#444" stroke-width="1.1"/><text x="674.2" y="61.86" font-size="7" fill="#4a4a4a" stroke="#4a4a4a" stroke-width="0.15">0.8</text><line x1="669.2" y1="5.00" x2="672.9" y2="5.00" stroke="#444" stroke-width="1.1"/><text x="674.2" y="7.50" font-size="7" fill="#4a4a4a" stroke="#4a4a4a" stroke-width="0.15">1.0</text></svg>
</body></html>
